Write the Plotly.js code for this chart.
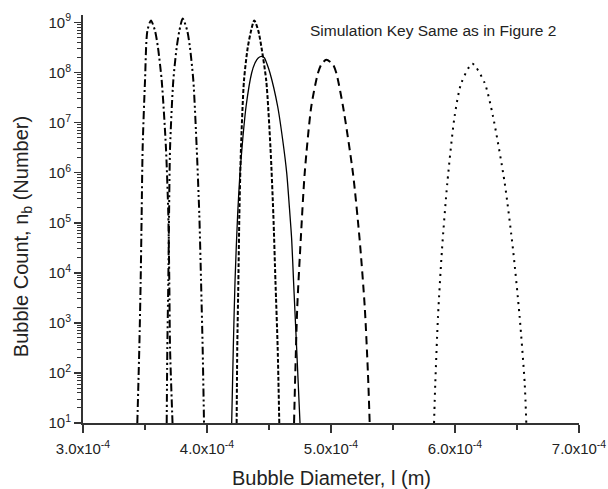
<!DOCTYPE html>
<html>
<head>
<meta charset="utf-8">
<script src="https://cdn.plot.ly/plotly-3.0.1.min.js"></script>
<style>html,body{margin:0;padding:0;background:#fff;}#chart{width:608px;height:489px;}</style>
</head>
<body>
<div id="chart"></div>
<script>
// Bubble diameter (m) and bubble count for each simulation curve
var dashDotX = [3.438e-4,3.454e-4,3.465e-4,3.473e-4,3.481e-4,3.500e-4,3.519e-4,3.548e-4,3.581e-4,3.605e-4,3.635e-4,3.669e-4,3.688e-4,3.696e-4,3.702e-4,3.722e-4];
var dashDotY = [1e1,3.1e2,6.8e3,1.45e5,3.1e6,6.8e7,6.8e8,1.1e9,6.8e8,3.1e8,6.8e7,3.1e6,1.45e5,6.8e3,3.1e2,1e1];

var dashDotDotX = [3.675e-4,3.680e-4,3.688e-4,3.694e-4,3.702e-4,3.728e-4,3.755e-4,3.777e-4,3.804e-4,3.841e-4,3.863e-4,3.890e-4,3.917e-4,3.938e-4,3.952e-4,3.965e-4,3.976e-4];
var dashDotDotY = [1e1,3.1e2,6.8e3,1.45e5,3.1e6,6.8e7,3.1e8,6.8e8,1.2e9,6.8e8,3.1e8,6.8e7,3.1e6,1.45e5,6.8e3,3.1e2,1e1];

var shortDashX = [4.239e-4,4.244e-4,4.253e-4,4.261e-4,4.274e-4,4.298e-4,4.328e-4,4.355e-4,4.381e-4,4.414e-4,4.440e-4,4.478e-4,4.512e-4,4.535e-4,4.552e-4,4.570e-4,4.583e-4];
var shortDashY = [1e1,3.1e2,6.8e3,1.45e5,3.1e6,6.8e7,3.1e8,6.8e8,1.1e9,6.8e8,3.1e8,6.8e7,3.1e6,1.45e5,6.8e3,3.1e2,1e1];

var solidX = [4.199e-4,4.212e-4,4.226e-4,4.247e-4,4.266e-4,4.288e-4,4.315e-4,4.360e-4,4.387e-4,4.413e-4,4.441e-4,4.464e-4,4.481e-4,4.508e-4,4.570e-4,4.610e-4,4.643e-4,4.664e-4,4.683e-4,4.698e-4,4.723e-4,4.750e-4];
var solidY = [1e1,3.1e2,6.8e3,1.45e5,9.8e5,4.6e6,2.1e7,9.8e7,1.55e8,1.95e8,2.1e8,1.95e8,1.55e8,9.8e7,2.1e7,4.6e6,9.8e5,2.1e5,4.6e4,6.8e3,3.1e2,1e1];

var dashX = [4.702e-4,4.712e-4,4.728e-4,4.756e-4,4.788e-4,4.841e-4,4.895e-4,4.922e-4,4.962e-4,5.016e-4,5.043e-4,5.097e-4,5.177e-4,5.231e-4,5.272e-4,5.298e-4,5.312e-4];
var dashY = [1e1,98,2.1e3,4.6e4,9.8e5,2.1e7,9.8e7,1.45e8,1.8e8,1.45e8,9.8e7,2.1e7,9.8e5,4.6e4,2.1e3,98,1e1];

var dotX = [5.831e-4,5.841e-4,5.863e-4,5.895e-4,5.938e-4,5.997e-4,6.051e-4,6.140e-4,6.239e-4,6.306e-4,6.401e-4,6.468e-4,6.521e-4,6.562e-4,6.575e-4];
var dotY = [1e1,62,1.35e3,2.9e4,6.2e5,1.35e7,6.2e7,1.5e8,6.2e7,1.35e7,6.2e5,2.9e4,1.35e3,62,1e1];

var xTickVals = [3e-4,4e-4,5e-4,6e-4,7e-4];
var xTickText = ['3.0x10<sup>-4</sup>','4.0x10<sup>-4</sup>','5.0x10<sup>-4</sup>','6.0x10<sup>-4</sup>','7.0x10<sup>-4</sup>'];
var yTickVals = [1e1,1e2,1e3,1e4,1e5,1e6,1e7,1e8,1e9];
var yTickText = ['10<sup>1</sup>','10<sup>2</sup>','10<sup>3</sup>','10<sup>4</sup>','10<sup>5</sup>','10<sup>6</sup>','10<sup>7</sup>','10<sup>8</sup>','10<sup>9</sup>'];
var xTitle = 'Bubble Diameter, l (m)';
var yTitle = 'Bubble Count, n<sub>b</sub> (Number)';
var noteText = 'Simulation Key Same as in Figure 2';

var yMinor = [];
for (var e = 1; e <= 9; e++) { for (var m = 2; m <= 9; m++) { yMinor.push(m * Math.pow(10, e)); } }
var xMinor = [3.5e-4,4.5e-4,5.5e-4,6.5e-4];

function tr(x, y, dash, w) {
  return {x: x, y: y, type: 'scatter', mode: 'lines',
    line: {color: '#000', width: w, dash: dash, shape: 'spline', smoothing: 0.7},
    hoverinfo: 'skip', showlegend: false};
}

var data = [
  tr(dashDotX, dashDotY, '8px,3px,2px,3px', 2),
  tr(dashDotDotX, dashDotDotY, '8px,3px,2px,3px,2px,3px', 2),
  tr(shortDashX, shortDashY, '4px,2px', 2),
  tr(solidX, solidY, 'solid', 1.3),
  tr(dashX, dashY, '8px,5px', 2),
  tr(dotX, dotY, '2px,5px', 2)
];

var fam = 'Liberation Sans, Arial, sans-serif';
var col = '#222';

var layout = {
  width: 608, height: 489,
  margin: {l: 83, r: 29, t: 15, b: 66},
  paper_bgcolor: '#fff', plot_bgcolor: '#fff',
  font: {family: fam, color: col, size: 14},
  xaxis: {
    range: [3e-4, 7e-4], showgrid: false, zeroline: false,
    showline: true, linecolor: '#333', linewidth: 2,
    ticks: 'outside', ticklen: 8, tickwidth: 1.5, tickcolor: '#333',
    tickvals: xTickVals, ticktext: xTickText, ticklabelstandoff: 3,
    tickfont: {size: 15, family: fam, color: col},
    minor: {tickvals: xMinor, ticks: 'outside', ticklen: 5, tickwidth: 1.5, tickcolor: '#333', showgrid: false}
  },
  yaxis: {
    type: 'log', range: [1, 9.15], showgrid: false, zeroline: false,
    showline: true, linecolor: '#333', linewidth: 2,
    ticks: 'outside', ticklen: 7, tickwidth: 1.5, tickcolor: '#333',
    tickvals: yTickVals, ticktext: yTickText,
    tickfont: {size: 15, family: fam, color: col},
    minor: {tickvals: yMinor, ticks: 'outside', ticklen: 4, tickwidth: 1, tickcolor: '#333', showgrid: false}
  },
  annotations: [
    {text: noteText, xref: 'paper', yref: 'paper', x: 0.705, y: 0.961,
     xanchor: 'center', yanchor: 'middle', showarrow: false,
     font: {size: 15.5, family: fam, color: col}},
    {text: xTitle, xref: 'paper', yref: 'paper', x: 0.5, y: -0.135,
     xanchor: 'center', yanchor: 'middle', showarrow: false,
     font: {size: 20, family: fam, color: col}},
    {text: yTitle, xref: 'paper', yref: 'paper', x: -0.123, y: 0.458, textangle: -90,
     xanchor: 'center', yanchor: 'middle', showarrow: false,
     font: {size: 20, family: fam, color: col}}
  ]
};

Plotly.newPlot('chart', data, layout, {displayModeBar: false, staticPlot: true});
</script>
</body>
</html>
